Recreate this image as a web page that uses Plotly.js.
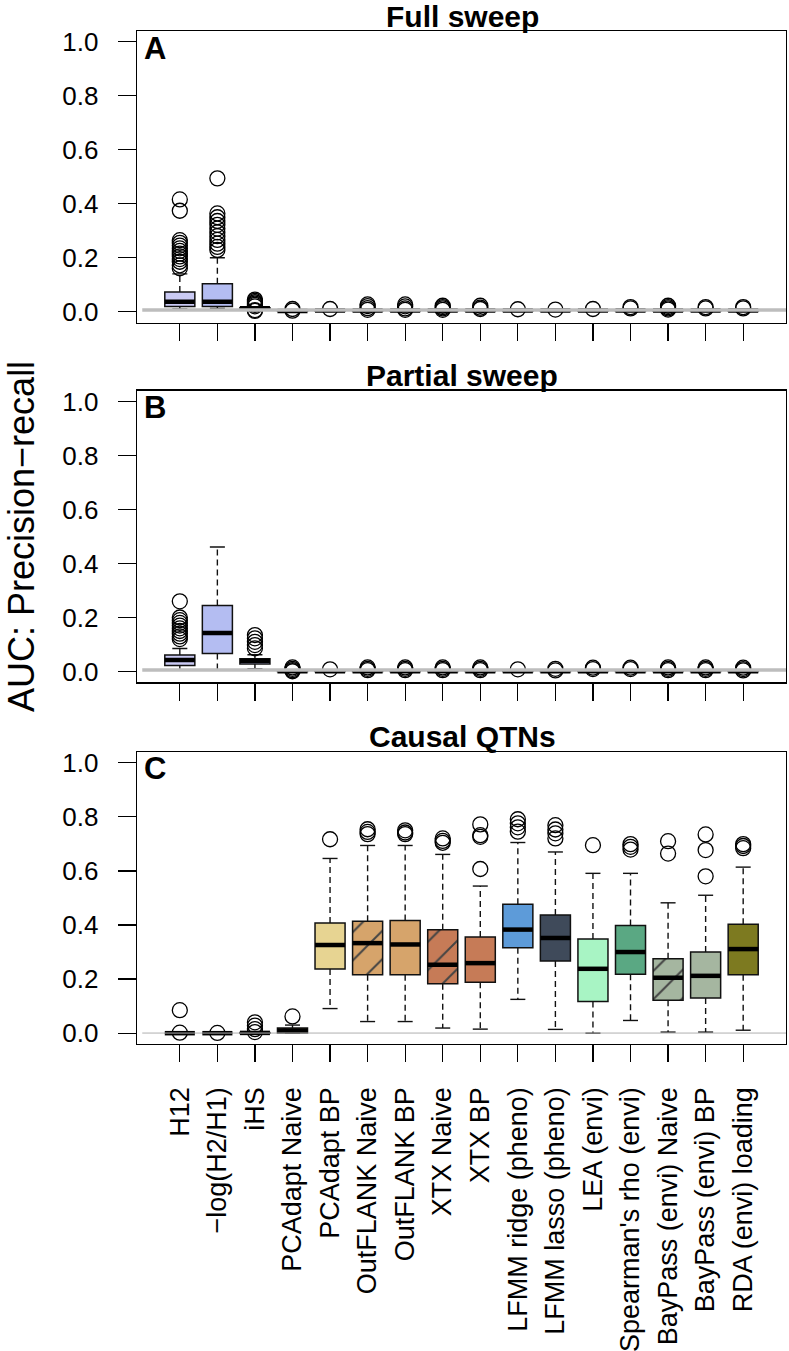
<!DOCTYPE html>
<html><head><meta charset="utf-8">
<script src="https://cdn.plot.ly/plotly-3.0.1.min.js"></script>
<style>html,body{margin:0;padding:0;background:#fff}</style>
</head><body><div id="chart" style="width:789px;height:1351px"></div>
<script>
const categories = ["H12","−log(H2/H1)","iHS","PCAdapt Naive","PCAdapt BP","OutFLANK Naive","OutFLANK BP","XTX Naive","XTX BP","LFMM ridge (pheno)","LFMM lasso (pheno)","LEA (envi)","Spearman's rho (envi)","BayPass (envi) Naive","BayPass (envi) BP","RDA (envi) loading"];
const boxColors = ["#cacaf4","#b4bdf2","#bcc3f0","#e7d492","#e7d492","#d6a46b","#d6a46b","#c67b57","#c67b57","#5d9bd9","#3f4a5a","#a8f4c4","#5aa883","#a5b6a0","#a5b6a0","#7d7a20"];
const hatch = ["","","","/","","/","","/","","","","","","/","",""];
const yTicks = [0,0.2,0.4,0.6,0.8,1.0];
const yTickText = ["0.0","0.2","0.4","0.6","0.8","1.0"];
const panelTitles = ["Full sweep","Partial sweep","Causal QTNs"];
const panelLetters = ["A","B","C"];
const baseline = [0.006, 0.006, 0.0005];

// Panel A: Full sweep
const A_lower = [0.010,0.012,0.009,0.001,0.002,0.002,0.002,0.002,0.002,0.002,0.002,0.002,0.002,0.002,0.002,0.002];
const A_q1    = [0.019,0.019,0.011,0.002,0.003,0.003,0.003,0.003,0.003,0.003,0.003,0.003,0.003,0.003,0.003,0.003];
const A_med   = [0.037,0.037,0.013,0.003,0.004,0.004,0.004,0.004,0.004,0.004,0.004,0.004,0.004,0.004,0.004,0.004];
const A_q3    = [0.073,0.104,0.015,0.004,0.005,0.005,0.005,0.005,0.005,0.005,0.005,0.005,0.005,0.005,0.005,0.005];
const A_upper = [0.140,0.200,0.018,0.005,0.006,0.006,0.006,0.006,0.006,0.006,0.006,0.006,0.006,0.006,0.006,0.006];
const A_out = [
  [0.416,0.374,0.265,0.255,0.245,0.235,0.225,0.215,0.205,0.195,0.185,0.172,0.161],
  [0.494,0.364,0.350,0.336,0.322,0.308,0.294,0.280,0.266,0.252,0.240,0.229],
  [0.045,0.040,0.035,0.030,0.025,0.020,0.006,0.003],
  [0.010,0.004],[0.010],[0.027,0.021,0.013,0.007],[0.027,0.020,0.012,0.007],
  [0.022,0.017,0.012,0.007],[0.022,0.015,0.010],[0.009],[0.008],[0.010],
  [0.017,0.012],[0.022,0.017,0.012,0.008],[0.017,0.012],[0.017,0.012]
];

// Panel B: Partial sweep
const B_lower = [0.005,0.004,0.010,0.000,0.000,0.000,0.000,0.000,0.000,0.000,0.000,0.000,0.000,0.000,0.000,0.000];
const B_q1    = [0.022,0.067,0.028,0.000,0.000,0.000,0.000,0.000,0.000,0.000,0.000,0.000,0.000,0.000,0.000,0.000];
const B_med   = [0.043,0.143,0.040,0.001,0.001,0.001,0.001,0.001,0.001,0.001,0.001,0.001,0.001,0.001,0.001,0.001];
const B_q3    = [0.061,0.244,0.047,0.002,0.002,0.002,0.002,0.002,0.002,0.002,0.002,0.002,0.002,0.002,0.002,0.002];
const B_upper = [0.085,0.461,0.062,0.003,0.003,0.003,0.003,0.003,0.003,0.003,0.003,0.003,0.003,0.003,0.003,0.003];
const B_out = [
  [0.260,0.200,0.190,0.180,0.170,0.160,0.150,0.140,0.130,0.120],
  [],
  [0.135,0.123,0.110,0.098,0.086],
  [0.015,0.010,0.005,0.001],[0.008],[0.015,0.010,0.005],[0.015,0.010,0.005],
  [0.015,0.010,0.005],[0.015,0.010,0.005],[0.008],[0.010,0.004],[0.014,0.009],
  [0.014,0.009],[0.015,0.010,0.005],[0.015,0.010,0.005],[0.014,0.009,0.004]
];

// Panel C: Causal QTNs
const C_lower = [0.000,0.000,0.000,0.000,0.091,0.043,0.043,0.019,0.015,0.125,0.014,0.000,0.047,0.004,0.004,0.011];
const C_q1    = [0.000,0.000,0.000,0.001,0.237,0.216,0.216,0.183,0.188,0.316,0.267,0.117,0.218,0.122,0.130,0.216];
const C_med   = [0.000,0.000,0.001,0.010,0.326,0.333,0.328,0.253,0.259,0.383,0.352,0.238,0.300,0.205,0.212,0.311];
const C_q3    = [0.000,0.000,0.002,0.019,0.407,0.414,0.417,0.382,0.356,0.477,0.437,0.348,0.398,0.275,0.300,0.403];
const C_upper = [0.000,0.000,0.003,0.030,0.646,0.694,0.694,0.661,0.544,0.705,0.670,0.591,0.591,0.482,0.510,0.614];
const C_out = [
  [0.085,0.002],[0.001],[0.040,0.028,0.015,0.004],[0.062],[0.717],
  [0.754,0.744,0.736],[0.750,0.742,0.736],[0.720,0.711,0.704],[0.772,0.732,0.726,0.607],
  [0.791,0.776,0.761,0.745],[0.769,0.753,0.739,0.720],[0.695],[0.699,0.689,0.679],
  [0.710,0.664],[0.735,0.677,0.580],[0.699,0.692,0.684]
];

const xRange = [-0.14, 17.14];
const FONT = "Liberation Sans, Arial, Helvetica, sans-serif";
const L = 137, R = 3, T = 31, B = 307, W = 789, H = 1351;
const plotH = H - T - B, plotW = W - L - R;
const px2x = p => (p - L) / plotW;
const py2y = p => (H - B - p) / plotH;

const panels = [
  {lo:A_lower,q1:A_q1,med:A_med,q3:A_q3,hi:A_upper,out:A_out,dom:[py2y(322.5),1], lineW:3.5, lineC:"#bdbdbd"},
  {lo:B_lower,q1:B_q1,med:B_med,q3:B_q3,hi:B_upper,out:B_out,dom:[py2y(682.3),py2y(390.7)], lineW:3.5, lineC:"#bdbdbd"},
  {lo:C_lower,q1:C_q1,med:C_med,q3:C_q3,hi:C_upper,out:C_out,dom:[0,py2y(751.9)], lineW:1, lineC:"#b0b0b0"}
];

const xs = categories.map((c,i)=>i+1);
const traces = [];
const layout = {
  width: W, height: H, margin:{l:L,r:R,t:T,b:B}, showlegend:false,
  paper_bgcolor:"#fff", plot_bgcolor:"#fff",
  font:{family:FONT, color:"#000"}, annotations:[]
};

panels.forEach((p,k)=>{
  const s = k===0 ? "" : String(k+1);
  const xa = "x"+s, ya = "y"+s;
  traces.push({type:"bar", x:xs, base:p.q1, y:p.q3.map((v,i)=>v-p.q1[i]), width:0.8,
    marker:{color:boxColors, line:{color:"#111", width:1.5},
      pattern:{shape:hatch, fgcolor:"#000", fgopacity:1, size:20, solidity:0.1, fillmode:"overlay"}},
    xaxis:xa, yaxis:ya, hoverinfo:"skip"});
  const wx=[], wy=[];
  xs.forEach((x,i)=>{ wx.push(x,x,null,x,x,null); wy.push(p.q3[i],p.hi[i],null,p.q1[i],p.lo[i],null); });
  traces.push({type:"scatter", mode:"lines", x:wx, y:wy, line:{color:"#111", width:1.4, dash:"6px,4px"}, xaxis:xa, yaxis:ya, hoverinfo:"skip"});
  const cx=[], cy=[];
  xs.forEach((x,i)=>{ cx.push(x-0.2,x+0.2,null,x-0.2,x+0.2,null); cy.push(p.hi[i],p.hi[i],null,p.lo[i],p.lo[i],null); });
  traces.push({type:"scatter", mode:"lines", x:cx, y:cy, line:{color:"#111", width:1.4}, xaxis:xa, yaxis:ya, hoverinfo:"skip"});
  const mx=[], my=[];
  xs.forEach((x,i)=>{ mx.push(x-0.4,x+0.4,null); my.push(p.med[i],p.med[i],null); });
  traces.push({type:"scatter", mode:"lines", x:mx, y:my, line:{color:"#000", width:4.5}, xaxis:xa, yaxis:ya, hoverinfo:"skip"});
  const ox=[], oy=[];
  p.out.forEach((arr,i)=>arr.forEach(v=>{ox.push(i+1); oy.push(v);}));
  traces.push({type:"scatter", mode:"markers", x:ox, y:oy,
    marker:{symbol:"circle-open", size:15, color:"#000", line:{width:1.3, color:"#000"}}, xaxis:xa, yaxis:ya, hoverinfo:"skip"});
  traces.push({type:"scatter", mode:"lines", x:[0, xRange[1]], y:[baseline[k], baseline[k]],
    line:{color:p.lineC, width:p.lineW}, xaxis:xa, yaxis:ya, hoverinfo:"skip"});

  layout["xaxis"+s] = {domain:[0,1], range:xRange, anchor:ya, tickvals:xs, ticktext:categories,
    showticklabels: k===2, tickangle:-90, ticks:"outside", ticklen:17, tickwidth:1.3, tickcolor:"#000",
    tickfont:{size:27, family:FONT, color:"#000"}, ticklabelstandoff:14,
    showgrid:false, zeroline:false, showline:true, mirror:true, linecolor:"#000", linewidth:1.4, fixedrange:true};
  layout["yaxis"+s] = {domain:p.dom, range:[-0.04,1.04], anchor:xa, tickvals:yTicks, ticktext:yTickText,
    ticks:"outside", ticklen:18, tickwidth:1.3, tickcolor:"#000", tickfont:{size:26, family:FONT, color:"#000"},
    ticklabelstandoff:14, showgrid:false, zeroline:false, showline:true, mirror:true, linecolor:"#000", linewidth:1.4, fixedrange:true};
});

const titleY = [16, 375, 736];
const letterY = [48, 408, 769];
panelTitles.forEach((t,k)=>{
  layout.annotations.push({text:"<b>"+t+"</b>", xref:"paper", yref:"paper", x:px2x(462), y:py2y(titleY[k]),
    xanchor:"center", yanchor:"middle", showarrow:false, borderpad:0, font:{size:30, family:FONT, color:"#000"}});
  layout.annotations.push({text:"<b>"+panelLetters[k]+"</b>", xref:"paper", yref:"paper", x:px2x(142), y:py2y(letterY[k]),
    xanchor:"left", yanchor:"middle", showarrow:false, font:{size:31, family:FONT, color:"#000"}});
});
layout.annotations.push({text:"AUC: Precision−recall", xref:"paper", yref:"paper", x:px2x(21), y:py2y(537),
  xanchor:"center", yanchor:"middle", textangle:-90, showarrow:false, borderpad:0, font:{size:36, family:FONT, color:"#000"}});

Plotly.newPlot("chart", traces, layout, {displayModeBar:false, staticPlot:true});
</script>
</body></html>
